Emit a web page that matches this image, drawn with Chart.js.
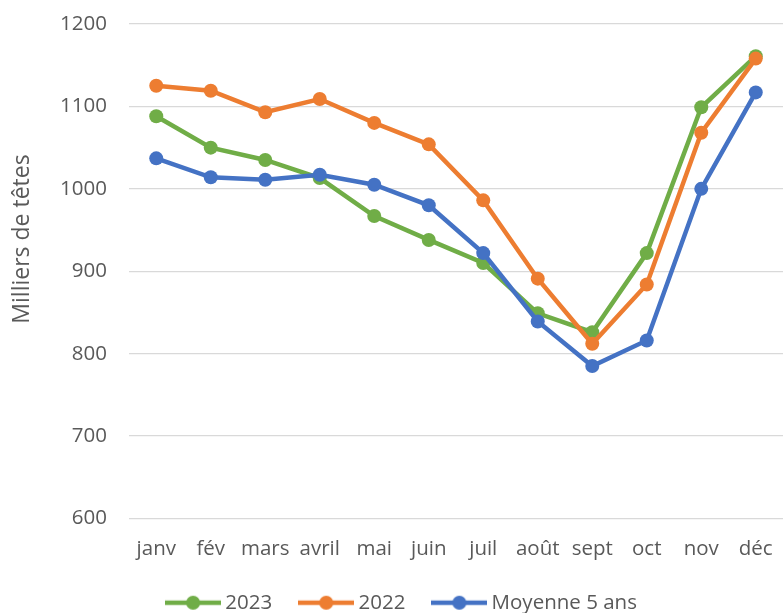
<!DOCTYPE html>
<html>
<head>
<meta charset="utf-8">
<script src="https://cdn.jsdelivr.net/npm/chart.js@4/dist/chart.umd.min.js"></script>
<style>
  html, body { margin: 0; padding: 0; background: #fff; }
  #chart { display: block; }
</style>
</head>
<body>
<canvas id="chart" width="783" height="613"></canvas>
<script>
// months
const months = ['janv', 'fév', 'mars', 'avril', 'mai', 'juin', 'juil', 'août', 'sept', 'oct', 'nov', 'déc'];

// series (milliers de têtes)
const serie2023 = [1088, 1050, 1035, 1013, 967, 938, 910, 849, 826, 922, 1099, 1161];
const serie2022 = [1125, 1119, 1093, 1109, 1080, 1054, 986, 891, 812, 884, 1068, 1158];
const moyenne5 = [1037, 1014, 1011, 1017, 1005, 980, 922, 839, 785, 816, 1000, 1117];

const yTicks = [600, 700, 800, 900, 1000, 1100, 1200];
const yTitle = 'Milliers de têtes';

const GREEN = '#70AD47';
const ORANGE = '#ED7D31';
const BLUE = '#4472C4';
const TEXT = '#595959';
const FONT = "'Open Sans', sans-serif";

// little line + dot used as legend marker
function legendMarker(color) {
  const c = document.createElement('canvas');
  c.width = 56;
  c.height = 16;
  const g = c.getContext('2d');
  g.strokeStyle = color;
  g.lineWidth = 4.5;
  g.beginPath();
  g.moveTo(0, 8);
  g.lineTo(56, 8);
  g.stroke();
  g.fillStyle = color;
  g.beginPath();
  g.arc(28, 8, 7, 0, Math.PI * 2);
  g.fill();
  return c;
}

function serie(label, data, color, order) {
  return {
    label: label,
    data: data,
    borderColor: color,
    backgroundColor: color,
    borderWidth: 4.5,
    pointRadius: 7,
    pointBorderWidth: 0,
    pointHoverRadius: 7,
    pointStyle: 'circle',
    legendMarker: legendMarker(color),
    tension: 0,
    order: order
  };
}

// y axis title drawn by hand (Excel puts it a bit above the plot centre)
const yTitlePlugin = {
  id: 'yTitle',
  afterDraw(chart) {
    const ctx = chart.ctx;
    ctx.save();
    ctx.translate(22, 239);
    ctx.rotate(-Math.PI / 2);
    ctx.font = "23px " + FONT;
    ctx.fillStyle = TEXT;
    ctx.textAlign = 'center';
    ctx.textBaseline = 'middle';
    ctx.fillText(yTitle, 0, 0);
    ctx.restore();
  }
};

new Chart(document.getElementById('chart'), {
  type: 'line',
  data: {
    labels: months,
    datasets: [
      serie('2023', serie2023, GREEN, 3),
      serie('2022', serie2022, ORANGE, 2),
      serie('Moyenne 5 ans', moyenne5, BLUE, 1)
    ]
  },
  options: {
    responsive: false,
    animation: false,
    events: [],
    layout: { autoPadding: false, padding: { top: 24, right: 0, bottom: -10, left: 25 } },
    scales: {
      x: {
        offset: true,
        grid: { display: false },
        border: { display: false },
        ticks: { color: TEXT, font: { family: FONT, size: 20.5 }, padding: 10, maxRotation: 0, autoSkip: false },
        afterFit(scale) { scale.height = 42; }
      },
      y: {
        min: 600,
        max: 1200,
        afterBuildTicks(scale) { scale.ticks = yTicks.map(v => ({ value: v })); },
        grid: { color: '#D9D9D9', lineWidth: 1.3, drawTicks: false },
        border: { display: false },
        ticks: { color: TEXT, font: { family: FONT, size: 20.5 }, padding: 22, callback: v => String(v) },
        afterFit(scale) {
          scale.width = 104;
          scale.paddingTop = 0;
          scale.paddingBottom = 0;
        }
      }
    },
    plugins: {
      tooltip: { enabled: false },
      legend: {
        position: 'bottom',
        labels: {
          color: TEXT,
          font: { family: FONT, size: 20.5 },
          usePointStyle: true,
          pointStyleWidth: 44,
          padding: 32,
          generateLabels(chart) {
            return chart.data.datasets.map((ds, i) => ({
              text: ds.label,
              datasetIndex: i,
              pointStyle: ds.legendMarker,
              fillStyle: ds.borderColor,
              strokeStyle: ds.borderColor,
              lineWidth: 0,
              fontColor: TEXT,
              hidden: false
            }));
          }
        }
      }
    }
  },
  plugins: [yTitlePlugin]
});
</script>
</body>
</html>
